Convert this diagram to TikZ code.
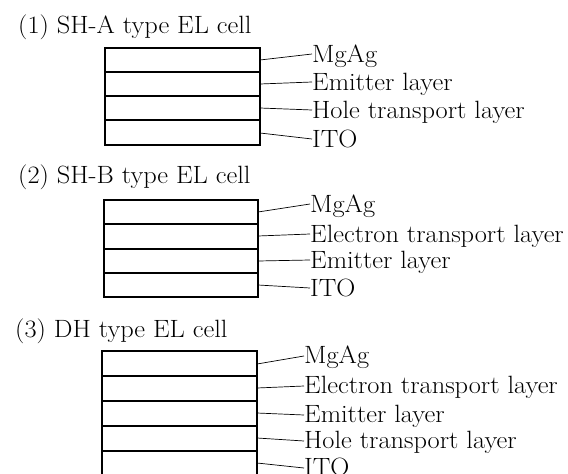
\documentclass[tikz,border=0pt]{standalone}
\usetikzlibrary{positioning,calc}
\tikzset{
  layerln/.style={line width=1.3pt},
  leaderln/.style={line width=0.7pt},
  titletxt/.style={anchor=base west, inner sep=0pt, font=\fontsize{25}{30}\selectfont},
  layertxt/.style={anchor=base west, inner sep=0pt, font=\fontsize{25}{30}\selectfont},
}
% slightly wider type, as in the printed figure
\newcommand{\widetxt}[1]{\scalebox{1.055}[1]{#1}}
\begin{document}
\begin{tikzpicture}[x=1pt,y=-1pt]
    \useasboundingbox (0,0) rectangle (568,474);
    \clip (0,0) rectangle (568,474);
    % (1) SH-A type cell
    \node[titletxt] (ttlA) at (18,33) {\widetxt{(1) SH-A type EL cell}};
    \draw[layerln] (105,48) rectangle (260,145);
    \foreach \y in {72,96,120} \draw[layerln] (105,\y) -- (260,\y);
    \foreach \n/\ym/\yb/\txt in {1/60/62/MgAg, 2/84/90/Emitter layer,
        3/108/118/Hole transport layer, 4/133/147/ITO} {
      \coordinate (A\n) at (260,\ym);
      \node[layertxt] (lblA\n) at (312,\yb) {\widetxt{\txt}};
      \draw[leaderln] (A\n) -- ([yshift=8pt]lblA\n.base west);
    }
    % (2) SH-B type cell
    \node[titletxt] (ttlB) at (18,183) {\widetxt{(2) SH-B type EL cell}};
    \draw[layerln] (104,200) rectangle (258,297);
    \foreach \y in {224,249,273} \draw[layerln] (104,\y) -- (258,\y);
    \foreach \n/\ym/\yb/\txt in {1/212/212/MgAg, 2/236/242/Electron transport layer,
        3/261/268/Emitter layer, 4/285/296/ITO} {
      \coordinate (B\n) at (258,\ym);
      \node[layertxt] (lblB\n) at (310,\yb) {\widetxt{\txt}};
      \draw[leaderln] (B\n) -- ([yshift=8pt]lblB\n.base west);
    }
    % (3) DH type cell (cut off at the bottom)
    \node[titletxt] (ttlC) at (15,337) {\widetxt{(3) DH type EL cell}};
    \draw[layerln] (102,351) rectangle (257,480);
    \foreach \y in {376,401,426,451,476} \draw[layerln] (102,\y) -- (257,\y);
    \foreach \n/\ym/\yb/\txt in {1/364/363/MgAg, 2/388/393/Electron transport layer,
        3/413/422/Emitter layer, 4/438/448/Hole transport layer, 5/463/475/ITO} {
      \coordinate (C\n) at (257,\ym);
      \node[layertxt] (lblC\n) at (304,\yb) {\widetxt{\txt}};
      \draw[leaderln] (C\n) -- ([yshift=7pt]lblC\n.base west);
    }
\end{tikzpicture}
\end{document}
